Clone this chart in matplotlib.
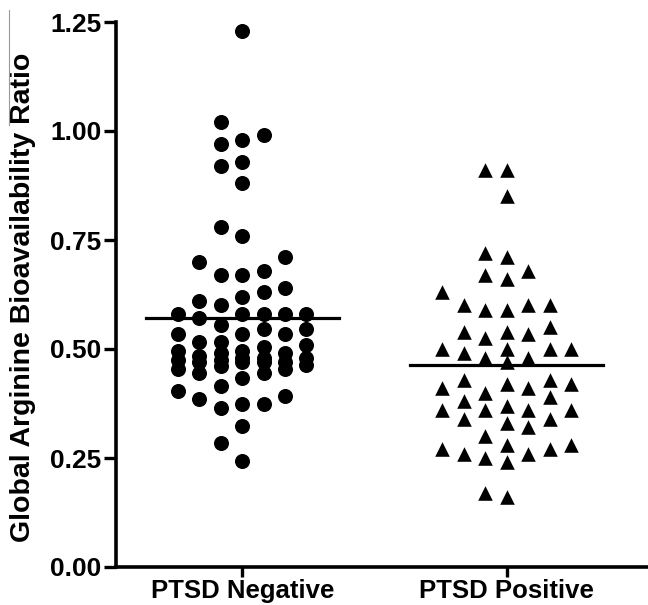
import numpy as np
import matplotlib
matplotlib.use("Agg")
import matplotlib.pyplot as plt
from matplotlib.lines import Line2D

plt.rcParams['font.family'] = ['Liberation Sans', 'DejaVu Sans']
plt.rcParams['font.weight'] = 'bold'

groups = ["PTSD Negative", "PTSD Positive"]

# values
ptsd_neg = [1.23, 1.02, 0.99, 0.98, 0.97, 0.93, 0.92, 0.88, 0.78, 0.76,
            0.71, 0.70, 0.68, 0.67, 0.67, 0.64, 0.63, 0.62, 0.61, 0.60,
            0.58, 0.58, 0.58, 0.58, 0.58, 0.57, 0.555, 0.545, 0.545,
            0.535, 0.535, 0.535, 0.515, 0.505, 0.515, 0.51,
            0.495, 0.475, 0.462, 0.485, 0.47, 0.49, 0.47, 0.48, 0.475,
            0.49, 0.48, 0.47, 0.48, 0.47, 0.495, 0.463,
            0.453, 0.453, 0.444, 0.444, 0.433, 0.414, 0.404, 0.393,
            0.385, 0.373, 0.373, 0.364, 0.324, 0.284, 0.242]
ptsd_pos = [0.91, 0.91, 0.85, 0.72, 0.71, 0.68, 0.67, 0.66, 0.63, 0.60,
            0.59, 0.59, 0.60, 0.60, 0.55, 0.54, 0.525, 0.535, 0.54,
            0.50, 0.49, 0.50, 0.48, 0.47, 0.48, 0.50, 0.50,
            0.43, 0.42, 0.40, 0.41, 0.41, 0.42, 0.43, 0.39,
            0.38, 0.36, 0.34, 0.36, 0.33, 0.36, 0.36, 0.32, 0.37, 0.34,
            0.30, 0.27, 0.26, 0.28, 0.25, 0.24, 0.26, 0.27, 0.28,
            0.16, 0.17]
center_lines = [0.572, 0.463]

yticks = [0.00, 0.25, 0.50, 0.75, 1.00, 1.25]


def dot_x(vals, center, gap=0.045, d=0.081, ncol=3):
    # greedy column packing (max 2*ncol+1 columns), prism-like dot plot
    vals = np.asarray(vals)
    order = np.argsort(vals)
    cols = [0]
    for k in range(1, ncol + 1):
        cols += [-k, k]
    placed = {c: [] for c in cols}
    x = np.zeros(len(vals))
    for i in order:
        v = vals[i]
        dist = [min([abs(v - p) for p in placed[c]], default=9) for c in cols]
        pick = None
        for c, dd in zip(cols, dist):
            if dd >= gap:
                pick = c
                break
        if pick is None:
            pick = cols[int(np.argmax(dist))]
        placed[pick].append(v)
        x[i] = center + pick * d
    return x


fig = plt.figure(figsize=(6.48, 6.05), dpi=100)
ax = fig.add_axes([116 / 648, 38 / 605, 1 - 116 / 648, 545 / 605])

ax.scatter(dot_x(ptsd_neg, 0), ptsd_neg, s=117, marker='o', color='black',
           linewidths=0, zorder=3)
ax.scatter(dot_x(ptsd_pos, 1), ptsd_pos, s=110, marker='^', color='black',
           linewidths=0, zorder=3)
for i, m in enumerate(center_lines):
    ax.plot([i - 0.365, i + 0.365], [m, m], color='black', lw=2.3, zorder=4)

ax.set_xlim(-0.477, 1.534)
ax.set_ylim(0, 1.25)
ax.set_xticks([0, 1])
ax.set_xticklabels(groups, fontsize=18.5, fontweight='bold')
ax.set_yticks(yticks)
ax.set_yticklabels([f"{t:.2f}" for t in yticks], fontsize=19,
                   fontweight='bold')
ax.set_ylabel("Global Arginine Bioavailability Ratio", fontsize=20.5,
              fontweight='bold')
ax.yaxis.set_label_coords(-0.151, 0.495)

for s in ['top', 'right']:
    ax.spines[s].set_visible(False)
for s in ['left', 'bottom']:
    ax.spines[s].set_linewidth(2.6)
ax.tick_params(axis='y', length=8.5, width=2.4, pad=2)
ax.tick_params(axis='x', length=7.5, width=2.4, pad=1)

# thin grey mark at the top left of the original scan
fig.add_artist(Line2D([9 / 648, 9 / 648], [1 - 10 / 605, 1 - 125 / 605],
                      color='#999999', lw=0.8))

plt.savefig("out.png", dpi=100)
plt.close()
